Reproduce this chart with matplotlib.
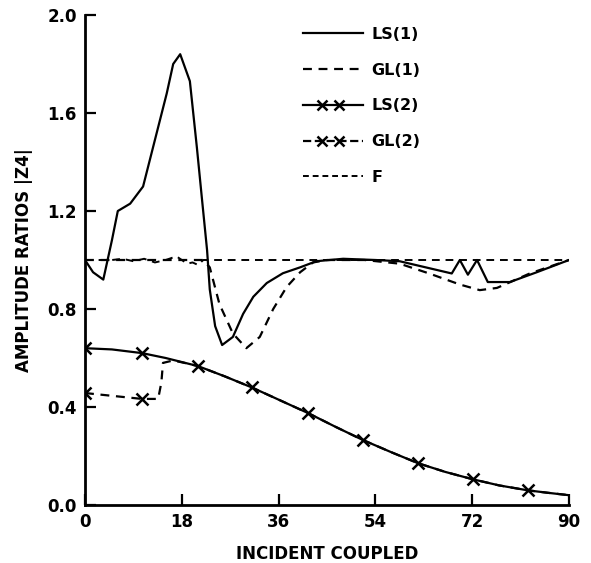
import matplotlib
matplotlib.use("Agg")
import matplotlib.pyplot as plt
from matplotlib.lines import Line2D
from matplotlib.legend_handler import HandlerBase

# ---- data ----
x_ls1 = [0, 1.5, 3.4, 5, 6.1, 8.4, 10.8, 13, 15.2, 16.4, 17.7, 19.5, 20.8, 21.7, 22.7,
         23.2, 24.2, 25.5, 27.5, 29.4, 31.3, 33.8, 36.8, 40, 43, 48, 54, 58.5,
         68.2, 69.7, 71.2, 72.9, 74.9, 79, 84, 90]
y_ls1 = [1.0, 0.95, 0.92, 1.08, 1.2, 1.23, 1.30, 1.49, 1.68, 1.80, 1.84, 1.73, 1.46, 1.26, 1.04,
         0.88, 0.73, 0.653, 0.686, 0.78, 0.85, 0.906, 0.946, 0.97, 0.995, 1.005, 1.0, 0.995,
         0.945, 1.0, 0.94, 1.0, 0.91, 0.91, 0.95, 1.0]

x_gl1 = [0, 22, 23.2, 25, 27.5, 30, 32.5, 35, 37.5, 40, 42.4, 45, 52, 58.5, 64, 69.7, 73.4,
         76.6, 82.7, 90]
y_gl1 = [1.0, 1.0, 0.97, 0.82, 0.70, 0.64, 0.686, 0.80, 0.89, 0.95, 0.99, 1.0, 1.0, 0.985,
         0.945, 0.90, 0.877, 0.886, 0.945, 1.0]

x_f = [0, 5, 7, 9, 11, 13, 15, 17, 18, 19, 20, 21, 22, 23, 30, 90]
y_f = [1.0, 1.0, 1.005, 0.995, 1.005, 0.99, 1.0, 1.015, 1.0, 0.985, 0.99, 0.98, 1.0, 1.0, 1.0, 1.0]

x_ls2 = [0, 5, 10.6, 15, 21, 26, 31, 36, 41.5, 46.5, 51.7, 57, 62, 67, 72.1, 77, 82.3, 86, 90]
y_ls2 = [0.64, 0.635, 0.62, 0.60, 0.567, 0.525, 0.48, 0.43, 0.375, 0.32, 0.265, 0.215, 0.17,
         0.135, 0.105, 0.08, 0.06, 0.05, 0.04]
ls2_marks = [0, 2, 4, 6, 8, 10, 12, 14, 16]

x_gl2 = [0, 10.6, 13.6, 14.2, 14.5, 16.4, 18.5, 21, 26, 31, 36, 41.5, 46.5, 51.7, 57, 62, 67,
         72.1, 77, 82.3, 86, 90]
y_gl2 = [0.457, 0.433, 0.433, 0.50, 0.58, 0.59, 0.58, 0.567, 0.525, 0.48, 0.43, 0.375, 0.32,
         0.265, 0.215, 0.17, 0.135, 0.105, 0.08, 0.06, 0.05, 0.04]
gl2_marks = [0, 1]

labels = ['LS(1)', 'GL(1)', 'LS(2)', 'GL(2)', 'F']
x_ticks = [0, 18, 36, 54, 72, 90]
y_ticks = [0.0, 0.4, 0.8, 1.2, 1.6, 2.0]

plt.rcParams['font.family'] = ['DejaVu Sans']
plt.rcParams['font.weight'] = 'bold'


class LineWithInnerMarkers(HandlerBase):
    """Full-length legend line with two markers placed inside it."""
    def create_artists(self, legend, orig_handle, xdescent, ydescent, width, height,
                       fontsize, trans):
        y = height / 2 - ydescent
        x0, x1 = -xdescent, width - xdescent
        line = Line2D([x0, x1], [y, y], color=orig_handle.get_color(),
                      lw=orig_handle.get_linewidth(), ls=orig_handle.get_linestyle())
        mk = Line2D([x0 + 0.32 * width, x0 + 0.6 * width], [y, y], ls='none',
                    marker=orig_handle.get_marker(), ms=orig_handle.get_markersize(),
                    mew=orig_handle.get_markeredgewidth(), color=orig_handle.get_color())
        for a in (line, mk):
            a.set_transform(trans)
        return [line, mk]


fig = plt.figure(figsize=(5.91, 5.63), dpi=100)
ax = fig.add_axes([85/591, 1-505/563, 484/591, 490/563])

lw = 1.6
dash = (0, (4, 3))
ax.plot(x_ls1, y_ls1, color='black', lw=lw)
ax.plot(x_gl1, y_gl1, color='black', lw=lw, ls=dash)
ax.plot(x_ls2, y_ls2, color='black', lw=lw, marker='x', ms=8, mew=1.8, markevery=ls2_marks)
ax.plot(x_gl2, y_gl2, color='black', lw=lw, ls=dash, marker='x', ms=8, mew=1.8,
        markevery=gl2_marks)
ax.plot(x_f, y_f, color='black', lw=1.4, ls=dash)

ax.set_xlim(0, 90)
ax.set_ylim(0, 2.0)
ax.set_xticks(x_ticks)
ax.set_xticklabels([str(v) for v in x_ticks])
ax.set_yticks(y_ticks)
ax.set_yticklabels([f"{v:.1f}" for v in y_ticks])
for s in ['top', 'right']:
    ax.spines[s].set_visible(False)
for s in ['left', 'bottom']:
    ax.spines[s].set_linewidth(2)
ax.tick_params(direction='in', length=8, width=1.6, labelsize=12, pad=6)
for lab in ax.get_xticklabels() + ax.get_yticklabels():
    lab.set_fontweight('bold')

ax.set_xlabel('INCIDENT COUPLED', fontsize=12, fontweight='bold', labelpad=10)
ax.set_ylabel('AMPLITUDE RATIOS |Z4|', fontsize=12, fontweight='bold', labelpad=10)

h_ls2 = Line2D([], [], color='black', lw=lw, marker='x', ms=7, mew=1.8)
h_gl2 = Line2D([], [], color='black', lw=lw, ls=(0, (2, 2)), marker='x', ms=7, mew=1.8)
handles = [
    Line2D([], [], color='black', lw=lw),
    Line2D([], [], color='black', lw=lw, ls=dash),
    h_ls2,
    h_gl2,
    Line2D([], [], color='black', lw=1.4, ls=(0, (3, 2))),
]
hmap = {h_ls2: LineWithInnerMarkers(), h_gl2: LineWithInnerMarkers()}
leg = ax.legend(handles, labels, loc='upper left', bbox_to_anchor=(0.42, 1.005),
                frameon=False, handlelength=3.8, labelspacing=1.3,
                handletextpad=0.5, prop={'weight': 'bold', 'size': 11.5}, handler_map=hmap)

fig.savefig('out.png', dpi=100)
